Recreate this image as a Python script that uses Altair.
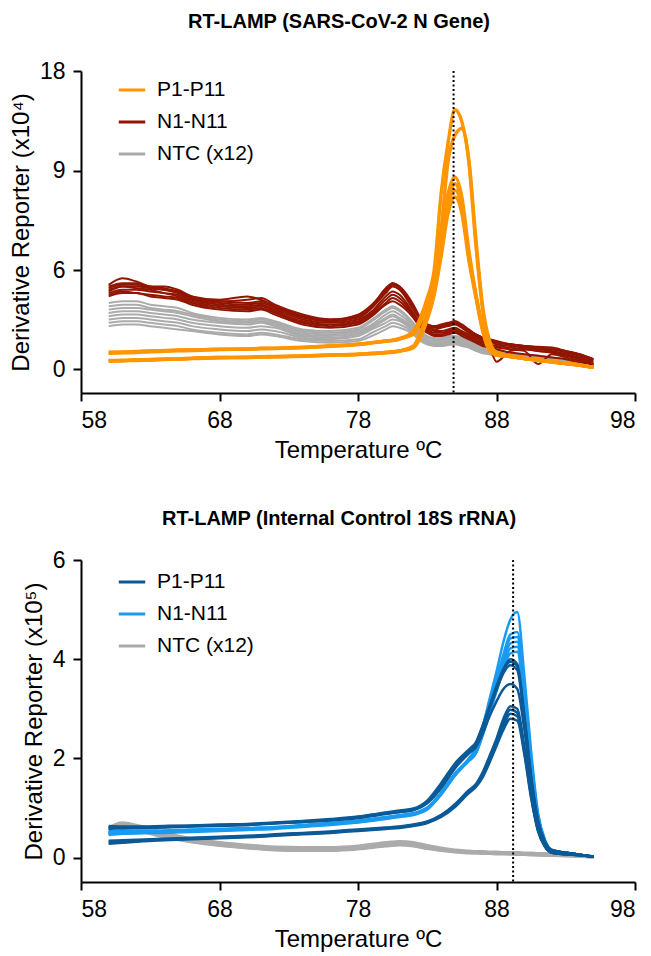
import altair as alt
import pandas as pd

FONT = "Liberation Sans"

LABELS = ["P1-P11", "N1-N11", "NTC (x12)"]
TOP_COLORS = ["#FF9500", "#911500", "#ABABAB"]
BOT_COLORS = ["#0B5A97", "#1A9BF2", "#ABABAB"]

TOP_TITLE = "RT-LAMP (SARS-CoV-2 N Gene)"
BOT_TITLE = "RT-LAMP (Internal Control 18S rRNA)"
TOP_YTITLE = "Derivative Reporter (x10\u2074)"
BOT_YTITLE = "Derivative Reporter (x10\u2075)"
XTITLE = "Temperature \u00baC"

X_TICKS = [58, 68, 78, 88, 98]
TOP_Y_TICKS = [0, 6, 9, 18]
BOT_Y_TICKS = [0, 2, 4, 6]
TOP_TM = 84.9
BOT_TM = 89.2

# ---------------- top chart (x10^4) ----------------
TOP_T = [60, 61, 62, 63, 64, 65, 66, 68, 70, 71, 72, 74, 76, 78, 79, 80, 80.5, 81,
         82, 82.5, 83, 83.5, 84, 84.5, 85, 85.5, 86, 86.5, 87, 87.5, 88,
         89, 90, 91, 92, 93, 94, 95]

TOP_P = [
    [1.0, 1.0, 1.05, 1.1, 1.1, 1.15, 1.15, 1.2, 1.2, 1.25, 1.25, 1.3, 1.4, 1.5, 1.6, 1.7, 1.75, 1.85,
     2.3, 3.1, 4.3, 6.0, 8.3, 11.5, 14.5, 13.4, 9.8, 6.8, 3.6, 1.6, 1.0,
     0.8, 0.65, 0.55, 0.45, 0.35, 0.25, 0.1],
    [0.5, 0.5, 0.55, 0.55, 0.6, 0.6, 0.65, 0.7, 0.7, 0.75, 0.75, 0.8, 0.85, 0.9, 0.95, 1.0, 1.05, 1.1,
     1.4, 2.2, 3.4, 5.0, 7.2, 9.8, 12.2, 12.8, 10.0, 7.0, 3.8, 1.7, 1.0,
     0.8, 0.65, 0.55, 0.45, 0.35, 0.25, 0.1],
    [0.95, 0.98, 1.0, 1.05, 1.08, 1.1, 1.12, 1.18, 1.2, 1.22, 1.24, 1.3, 1.38, 1.48, 1.58, 1.68, 1.72, 1.82,
     2.2, 2.9, 4.0, 5.6, 7.2, 8.3, 8.8, 8.2, 6.6, 4.6, 2.5, 1.2, 0.9,
     0.78, 0.64, 0.54, 0.44, 0.34, 0.24, 0.1],
    [0.48, 0.5, 0.52, 0.55, 0.58, 0.6, 0.63, 0.68, 0.7, 0.72, 0.74, 0.78, 0.83, 0.88, 0.93, 0.98, 1.02, 1.08,
     1.35, 2.0, 3.1, 4.6, 6.6, 8.0, 8.6, 8.0, 6.4, 4.5, 2.4, 1.15, 0.85,
     0.76, 0.63, 0.53, 0.43, 0.33, 0.23, 0.1],
    [1.02, 1.03, 1.06, 1.1, 1.12, 1.14, 1.16, 1.2, 1.22, 1.26, 1.27, 1.32, 1.4, 1.5, 1.6, 1.7, 1.74, 1.84,
     2.1, 2.8, 3.9, 5.4, 7.0, 8.0, 8.4, 7.9, 6.5, 4.5, 2.5, 1.2, 0.9,
     0.78, 0.64, 0.54, 0.44, 0.34, 0.24, 0.1],
    [0.52, 0.53, 0.56, 0.58, 0.6, 0.62, 0.66, 0.7, 0.72, 0.75, 0.76, 0.8, 0.86, 0.9, 0.96, 1.0, 1.04, 1.1,
     1.3, 1.9, 3.0, 4.5, 6.4, 7.7, 8.2, 7.7, 6.3, 4.4, 2.3, 1.1, 0.85,
     0.76, 0.63, 0.53, 0.43, 0.33, 0.23, 0.1],
]

TOP_N = [
    [5.1, 5.5, 5.3, 5.0, 4.9, 4.7, 4.4, 4.2, 4.4, 4.2, 3.8, 3.2, 3.0, 3.3, 3.9, 4.8, 5.2, 5.0,
     3.8, 3.1, 2.7, 2.6, 2.6, 2.7, 2.8, 2.6, 2.3, 2.1, 1.9, 1.8, 1.6, 1.5, 1.4, 1.3, 1.2, 1.0, 0.8, 0.5],
    [4.9, 5.1, 5.1, 4.9, 4.8, 4.7, 4.3, 4.0, 3.9, 4.0, 3.7, 3.1, 2.9, 3.1, 3.7, 4.6, 5.0, 4.8,
     3.6, 3.0, 2.6, 2.4, 2.5, 2.6, 2.7, 2.5, 2.2, 2.0, 1.8, 1.7, 1.5, 1.4, 1.3, 1.2, 1.1, 0.9, 0.7, 0.4],
    [4.7, 5.0, 4.9, 4.8, 4.6, 4.5, 4.2, 3.9, 3.8, 3.9, 3.6, 3.0, 2.8, 3.0, 3.5, 4.4, 4.7, 4.5,
     3.4, 2.8, 2.5, 2.3, 2.3, 2.4, 2.5, 2.3, 2.1, 1.9, 1.7, 1.3, 0.45, 1.1, 1.2, 1.1, 1.0, 0.9, 0.6, 0.3],
    [4.6, 4.8, 4.8, 4.7, 4.6, 4.4, 4.1, 3.8, 3.7, 3.8, 3.5, 2.9, 2.7, 2.9, 3.4, 4.2, 4.5, 4.3,
     3.3, 2.7, 2.4, 2.2, 2.2, 2.3, 2.4, 2.2, 2.0, 1.8, 1.6, 1.5, 1.4, 1.3, 1.2, 1.1, 1.0, 0.8, 0.6, 0.3],
    [4.5, 4.7, 4.6, 4.5, 4.4, 4.3, 4.0, 3.7, 3.6, 3.7, 3.4, 2.8, 2.6, 2.8, 3.3, 4.0, 4.3, 4.1,
     3.2, 2.6, 2.3, 2.1, 2.1, 2.2, 2.3, 2.1, 1.9, 1.7, 1.5, 1.4, 1.3, 1.2, 1.1, 0.3, 0.9, 0.7, 0.5, 0.2],
    [4.8, 5.0, 5.0, 4.9, 4.8, 4.6, 4.3, 4.1, 4.0, 4.1, 3.8, 3.2, 2.9, 3.2, 3.8, 4.7, 5.1, 4.9,
     3.7, 3.0, 2.6, 2.5, 2.6, 2.7, 2.9, 2.6, 2.3, 2.1, 1.9, 1.7, 1.6, 1.5, 1.4, 1.3, 1.2, 1.1, 0.9, 0.6],
    [4.4, 4.6, 4.6, 4.4, 4.3, 4.2, 3.9, 3.6, 3.5, 3.6, 3.3, 2.7, 2.5, 2.7, 3.2, 3.9, 4.1, 3.9,
     3.1, 2.5, 2.2, 2.0, 2.0, 2.1, 2.2, 2.0, 1.8, 1.6, 1.4, 1.3, 1.2, 1.0, 0.9, 0.8, 0.7, 0.6, 0.4, 0.15],
    [5.0, 5.2, 5.2, 5.0, 5.0, 4.8, 4.4, 4.1, 4.2, 4.3, 3.9, 3.3, 3.0, 3.2, 3.8, 4.9, 5.2, 5.0,
     3.9, 3.1, 2.7, 2.6, 2.7, 2.8, 2.9, 2.7, 2.4, 2.1, 1.9, 1.8, 1.7, 1.5, 1.4, 1.35, 1.3, 1.1, 0.9, 0.6],
]

TOP_NTC = [
    [4.0, 4.1, 4.1, 3.9, 3.8, 3.7, 3.4, 3.1, 3.0, 3.1, 2.9, 2.4, 2.3, 2.5, 3.0, 3.6, 3.8, 3.6,
     2.8, 2.3, 2.0, 1.9, 1.9, 2.0, 2.0, 1.9, 1.7, 1.5, 1.3, 1.2, 1.1, 1.0, 0.9, 0.8, 0.7, 0.6, 0.4, 0.2],
    [3.8, 3.9, 3.9, 3.7, 3.6, 3.5, 3.3, 3.0, 2.9, 3.0, 2.8, 2.3, 2.2, 2.4, 2.9, 3.5, 3.7, 3.5,
     2.7, 2.2, 1.9, 1.8, 1.8, 1.9, 1.9, 1.8, 1.6, 1.4, 1.2, 1.1, 1.0, 0.9, 0.85, 0.8, 0.7, 0.55, 0.4, 0.2],
    [3.6, 3.7, 3.7, 3.6, 3.5, 3.4, 3.2, 2.9, 2.8, 2.9, 2.7, 2.2, 2.1, 2.3, 2.7, 3.3, 3.5, 3.3,
     2.6, 2.1, 1.8, 1.7, 1.7, 1.8, 1.8, 1.7, 1.5, 1.3, 1.15, 1.05, 0.95, 0.85, 0.8, 0.75, 0.65, 0.5, 0.35, 0.2],
    [3.4, 3.5, 3.5, 3.4, 3.3, 3.2, 3.0, 2.8, 2.7, 2.8, 2.6, 2.1, 2.0, 2.2, 2.6, 3.1, 3.3, 3.1,
     2.5, 2.0, 1.7, 1.6, 1.6, 1.7, 1.7, 1.6, 1.45, 1.25, 1.1, 1.0, 0.9, 0.8, 0.75, 0.7, 0.6, 0.5, 0.35, 0.2],
    [3.0, 3.1, 3.1, 3.0, 2.9, 2.8, 2.6, 2.4, 2.3, 2.4, 2.3, 1.9, 1.8, 2.0, 2.4, 2.8, 3.0, 2.9,
     2.3, 1.9, 1.6, 1.5, 1.5, 1.55, 1.6, 1.5, 1.4, 1.2, 1.05, 0.95, 0.85, 0.8, 0.7, 0.65, 0.55, 0.45, 0.3, 0.2],
    [2.8, 2.9, 2.9, 2.8, 2.7, 2.6, 2.4, 2.2, 2.1, 2.2, 2.1, 1.8, 1.7, 1.8, 2.2, 2.6, 2.8, 2.7,
     2.2, 1.8, 1.5, 1.45, 1.45, 1.5, 1.55, 1.45, 1.35, 1.15, 1.0, 0.9, 0.85, 0.75, 0.7, 0.6, 0.5, 0.4, 0.3, 0.15],
    [2.6, 2.7, 2.7, 2.6, 2.5, 2.4, 2.3, 2.1, 2.0, 2.1, 2.0, 1.7, 1.6, 1.7, 2.0, 2.4, 2.6, 2.5,
     2.1, 1.7, 1.5, 1.4, 1.4, 1.45, 1.5, 1.4, 1.3, 1.1, 0.95, 0.9, 0.8, 0.7, 0.65, 0.6, 0.5, 0.4, 0.3, 0.15],
    [3.2, 3.3, 3.3, 3.2, 3.1, 3.0, 2.8, 2.6, 2.5, 2.6, 2.5, 2.0, 1.9, 2.1, 2.5, 3.0, 3.2, 3.0,
     2.4, 1.9, 1.65, 1.55, 1.55, 1.6, 1.65, 1.55, 1.4, 1.2, 1.05, 0.95, 0.9, 0.8, 0.75, 0.7, 0.6, 0.5, 0.35, 0.2],
]

# ---------------- bottom chart (x10^5) ----------------
BOT_T = [60, 61, 62, 64, 66, 68, 70, 72, 74, 76, 78, 80, 81, 82, 83, 84, 85, 86, 86.5,
         87, 87.5, 88, 88.5, 89, 89.5, 90, 90.5, 91, 91.5, 92, 93, 94, 95]

BOT_P = [
    [0.62, 0.6, 0.62, 0.62, 0.64, 0.66, 0.66, 0.7, 0.72, 0.76, 0.82, 0.9, 0.93, 0.97, 1.12, 1.45, 1.85, 2.15, 2.3,
     2.65, 3.05, 3.45, 3.8, 4.0, 3.9, 2.9, 1.65, 0.75, 0.32, 0.15, 0.1, 0.06, 0.02],
    [0.58, 0.6, 0.6, 0.61, 0.63, 0.64, 0.66, 0.69, 0.72, 0.75, 0.8, 0.88, 0.92, 0.96, 1.1, 1.42, 1.82, 2.12, 2.26,
     2.6, 3.0, 3.38, 3.72, 3.88, 3.78, 2.8, 1.6, 0.72, 0.3, 0.14, 0.1, 0.06, 0.02],
    [0.6, 0.62, 0.61, 0.62, 0.64, 0.65, 0.67, 0.7, 0.73, 0.76, 0.81, 0.89, 0.92, 0.96, 1.1, 1.4, 1.8, 2.1, 2.22,
     2.5, 2.85, 3.15, 3.4, 3.5, 3.4, 2.6, 1.5, 0.68, 0.3, 0.14, 0.1, 0.06, 0.02],
    [0.64, 0.63, 0.63, 0.64, 0.65, 0.67, 0.68, 0.71, 0.74, 0.78, 0.83, 0.91, 0.95, 0.99, 1.15, 1.5, 1.9, 2.18, 2.32,
     2.66, 3.05, 3.45, 3.78, 3.95, 3.86, 2.85, 1.62, 0.74, 0.32, 0.15, 0.1, 0.06, 0.02],
    [0.32, 0.33, 0.34, 0.37, 0.39, 0.41, 0.43, 0.46, 0.49, 0.52, 0.56, 0.6, 0.62, 0.66, 0.72, 0.86, 1.08, 1.36, 1.48,
     1.72, 2.05, 2.4, 2.8, 3.05, 3.0, 2.25, 1.3, 0.58, 0.24, 0.11, 0.07, 0.05, 0.02],
    [0.3, 0.31, 0.33, 0.36, 0.38, 0.4, 0.42, 0.45, 0.48, 0.51, 0.55, 0.59, 0.61, 0.65, 0.71, 0.84, 1.05, 1.33, 1.45,
     1.68, 2.0, 2.35, 2.72, 2.98, 2.92, 2.2, 1.27, 0.56, 0.23, 0.1, 0.07, 0.05, 0.02],
    [0.34, 0.35, 0.36, 0.38, 0.4, 0.42, 0.44, 0.47, 0.5, 0.53, 0.57, 0.61, 0.63, 0.67, 0.73, 0.86, 1.06, 1.33, 1.44,
     1.66, 1.96, 2.3, 2.65, 2.9, 2.85, 2.15, 1.24, 0.55, 0.23, 0.1, 0.07, 0.05, 0.02],
    [0.28, 0.3, 0.32, 0.35, 0.37, 0.39, 0.41, 0.44, 0.47, 0.5, 0.54, 0.58, 0.6, 0.64, 0.7, 0.82, 1.02, 1.3, 1.42,
     1.62, 1.92, 2.25, 2.58, 2.8, 2.76, 2.1, 1.2, 0.53, 0.22, 0.1, 0.07, 0.05, 0.02],
]

BOT_N = [
    [0.5, 0.52, 0.52, 0.53, 0.55, 0.56, 0.58, 0.6, 0.64, 0.68, 0.73, 0.8, 0.84, 0.88, 1.0, 1.32, 1.7, 2.0, 2.2,
     2.65, 3.2, 3.75, 4.35, 4.8, 4.95, 3.7, 2.15, 0.9, 0.36, 0.16, 0.1, 0.06, 0.02],
    [0.48, 0.5, 0.5, 0.52, 0.54, 0.55, 0.57, 0.59, 0.63, 0.67, 0.72, 0.79, 0.83, 0.87, 0.98, 1.3, 1.68, 1.98, 2.16,
     2.58, 3.1, 3.6, 4.1, 4.5, 4.55, 3.45, 2.0, 0.85, 0.34, 0.15, 0.1, 0.06, 0.02],
    [0.52, 0.53, 0.53, 0.54, 0.56, 0.57, 0.59, 0.61, 0.65, 0.69, 0.74, 0.81, 0.85, 0.89, 1.0, 1.3, 1.68, 1.97, 2.14,
     2.55, 3.05, 3.55, 4.0, 4.42, 4.45, 3.4, 1.95, 0.84, 0.34, 0.15, 0.1, 0.06, 0.02],
    [0.46, 0.48, 0.49, 0.5, 0.52, 0.54, 0.56, 0.58, 0.62, 0.66, 0.71, 0.78, 0.82, 0.86, 0.97, 1.27, 1.65, 1.95, 2.1,
     2.5, 3.0, 3.5, 3.95, 4.32, 4.35, 3.3, 1.9, 0.82, 0.33, 0.15, 0.1, 0.06, 0.02],
    [0.5, 0.51, 0.51, 0.52, 0.54, 0.56, 0.58, 0.6, 0.64, 0.68, 0.72, 0.8, 0.84, 0.88, 0.99, 1.28, 1.66, 1.95, 2.1,
     2.48, 2.95, 3.42, 3.85, 4.22, 4.25, 3.2, 1.85, 0.8, 0.32, 0.15, 0.1, 0.06, 0.02],
    [0.54, 0.55, 0.54, 0.55, 0.57, 0.58, 0.6, 0.62, 0.66, 0.7, 0.75, 0.82, 0.86, 0.9, 1.01, 1.3, 1.67, 1.96, 2.1,
     2.46, 2.9, 3.35, 3.78, 4.12, 4.15, 3.15, 1.82, 0.8, 0.32, 0.15, 0.1, 0.06, 0.02],
]

BOT_NTC = [
    [0.55, 0.68, 0.62, 0.47, 0.36, 0.29, 0.23, 0.19, 0.18, 0.18, 0.21, 0.28, 0.3, 0.28, 0.22, 0.17, 0.14, 0.12, 0.11,
     0.11, 0.1, 0.1, 0.1, 0.09, 0.09, 0.08, 0.08, 0.07, 0.07, 0.06, 0.05, 0.04, 0.02],
    [0.5, 0.62, 0.58, 0.44, 0.33, 0.26, 0.21, 0.17, 0.16, 0.16, 0.19, 0.25, 0.27, 0.25, 0.2, 0.16, 0.13, 0.11, 0.1,
     0.1, 0.09, 0.09, 0.09, 0.08, 0.08, 0.07, 0.07, 0.06, 0.06, 0.05, 0.05, 0.04, 0.02],
    [0.6, 0.7, 0.65, 0.5, 0.38, 0.3, 0.25, 0.21, 0.2, 0.2, 0.23, 0.3, 0.32, 0.3, 0.24, 0.19, 0.15, 0.13, 0.12,
     0.12, 0.11, 0.11, 0.1, 0.1, 0.1, 0.09, 0.09, 0.08, 0.08, 0.07, 0.06, 0.04, 0.02],
    [0.45, 0.58, 0.55, 0.42, 0.32, 0.25, 0.2, 0.16, 0.15, 0.15, 0.18, 0.24, 0.26, 0.24, 0.19, 0.15, 0.12, 0.1, 0.1,
     0.09, 0.09, 0.08, 0.08, 0.08, 0.07, 0.07, 0.06, 0.06, 0.05, 0.05, 0.04, 0.03, 0.02],
]


def frame(T, label, curves):
    rows = []
    for i, c in enumerate(curves):
        for t, v in zip(T, c):
            rows.append({"t": t, "v": v, "grp": label, "id": f"{label}-{i}"})
    return pd.DataFrame(rows)


W, H = 554, 322


def panel(title, ytitle, T, groups, colors, tm, yscale, yticks, widths, legend_y, title_offset):
    x_enc = alt.X("t:Q", scale=alt.Scale(domain=[58, 98], nice=False, zero=False),
                  axis=alt.Axis(values=X_TICKS, title=XTITLE, format="d"))
    y_enc = alt.Y("v:Q", scale=yscale,
                  axis=alt.Axis(values=yticks, title=ytitle, format="d"))
    color = alt.Color("grp:N", scale=alt.Scale(domain=LABELS, range=colors),
                      legend=alt.Legend(title=None, orient="none", legendX=36, legendY=legend_y,
                                        symbolType="stroke", symbolSize=700, symbolStrokeWidth=3,
                                        labelFontSize=21, labelFont=FONT, labelColor="black",
                                        labelOffset=10, rowPadding=7, labelLimit=300))
    layers = []
    for (label, curves), sw in zip(groups, widths):
        layers.append(
            alt.Chart(frame(T, label, curves)).mark_line(strokeWidth=sw, interpolate="monotone")
            .encode(x=x_enc, y=y_enc, color=color, detail="id:N", order="t:Q")
        )
    rule = alt.Chart(pd.DataFrame({"t": [tm]})).mark_rule(
        color="black", strokeWidth=2, strokeDash=[2, 2.5]).encode(x=alt.X("t:Q"))
    layers.append(rule)
    return alt.layer(*layers).properties(
        width=W, height=H,
        title=alt.TitleParams(title, fontSize=20, fontWeight="bold", font=FONT, color="black",
                              anchor="middle", frame="group", dx=-19, offset=title_offset),
    )


top = panel(
    TOP_TITLE, TOP_YTITLE, TOP_T,
    [(LABELS[2], TOP_NTC), (LABELS[1], TOP_N), (LABELS[0], TOP_P)],
    TOP_COLORS, TOP_TM,
    alt.Scale(domain=[-1.45, 6, 9, 18], range=[H, 199, 99.5, 0], zero=False, nice=False),
    TOP_Y_TICKS, [2, 2, 3.4], 4, 28,
)

bottom = panel(
    BOT_TITLE, BOT_YTITLE, BOT_T,
    [(LABELS[2], BOT_NTC), (LABELS[1], BOT_N), (LABELS[0], BOT_P)],
    BOT_COLORS, BOT_TM,
    alt.Scale(domain=[-0.49, 6], zero=False, nice=False),
    BOT_Y_TICKS, [3.5, 2.5, 2.5], 7, 20,
)

chart = alt.vconcat(top, bottom, spacing=47).resolve_scale(color="independent").properties(
    padding={"left": 9, "top": 12, "right": 5, "bottom": 5},
    background="white",
).configure_view(stroke=None).configure_axis(
    grid=False, domainColor="black", domainWidth=2, tickColor="black", tickWidth=2,
    tickSize=8, labelFont=FONT, labelFontSize=23, labelColor="black", labelPadding=8,
    titleFont=FONT, titleFontSize=24, titleFontWeight="normal", titleColor="black",
    titlePadding=6,
)

chart.save("out.html", embed_options={"renderer": "svg", "actions": False})
